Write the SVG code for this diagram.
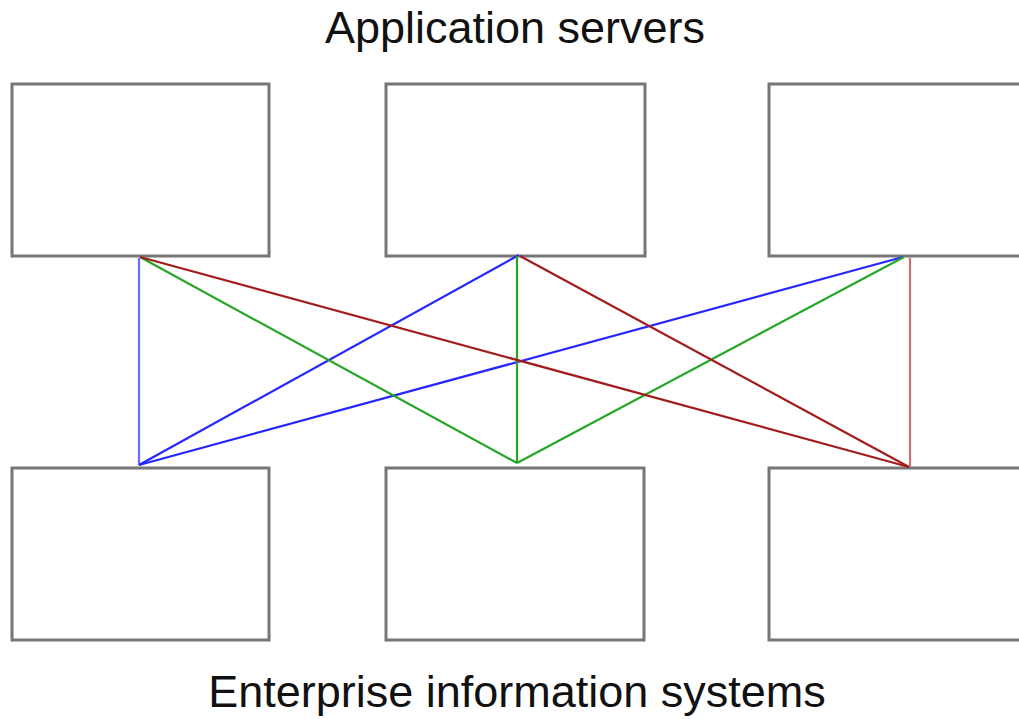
<svg xmlns="http://www.w3.org/2000/svg" width="1019" height="719" viewBox="0 0 1019 719">
<style>
.box{fill:#fff;stroke:#767676;stroke-width:3}
.lbl{font-family:"Liberation Sans",Arial,sans-serif;font-size:45px;fill:#111;text-anchor:middle}
.c{fill:none;stroke-width:2.2}
.b{stroke:#2626ff}
.g{stroke:#26a626}
.r{stroke:#a21c1c}
</style>
<rect width="1019" height="719" fill="#fff"/>
<text class="lbl" x="515" y="43">Application servers</text>
<g id="app1"><rect class="box" x="12" y="84" width="257" height="172"/></g>
<g id="app2"><rect class="box" x="386" y="84" width="259" height="172"/></g>
<g id="app3"><rect class="box" x="769" y="84" width="260" height="172"/></g>
<g id="eis1"><rect class="box" x="12" y="468" width="257" height="172"/></g>
<g id="eis2"><rect class="box" x="386" y="468" width="258" height="172"/></g>
<g id="eis3"><rect class="box" x="769" y="468" width="260" height="172"/></g>
<g id="connectors">
<line class="c" x1="139" y1="258" x2="139" y2="465" stroke="#6b6bff" stroke-width="3"/>
<line class="c b" x1="139" y1="465" x2="519" y2="255"/>
<line class="c b" x1="139" y1="465" x2="903" y2="257"/>
<line class="c g" x1="140" y1="257" x2="517" y2="463"/>
<line class="c g" x1="517" y1="256" x2="517" y2="463"/>
<line class="c g" x1="517" y1="463" x2="904" y2="257"/>
<line class="c r" x1="140" y1="257" x2="909" y2="467"/>
<line class="c r" x1="520" y1="256" x2="909" y2="467"/>
<line class="c" x1="910" y1="258" x2="910" y2="467" stroke="#cc7078" stroke-width="3"/>
</g>
<text class="lbl" x="517" y="707">Enterprise information systems</text>
</svg>
